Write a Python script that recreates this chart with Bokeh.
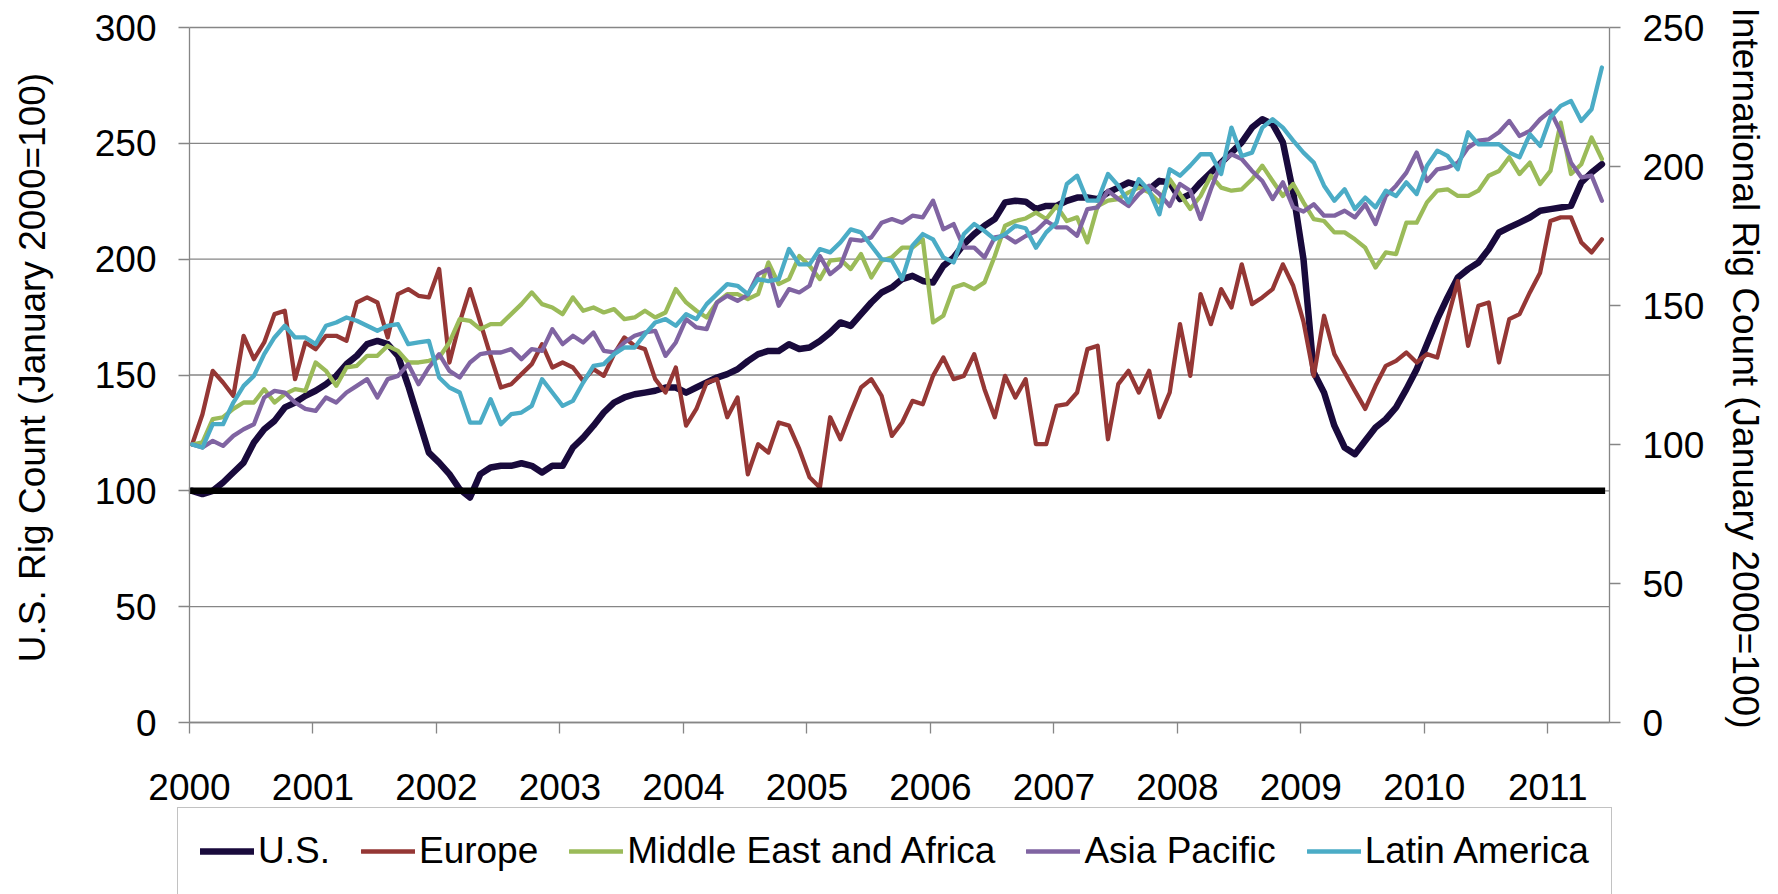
import math
from bokeh.plotting import figure
from bokeh.models import Range1d, LinearAxis, FixedTicker, Legend, LegendItem, Label
from bokeh.embed import file_html
from bokeh.resources import INLINE

# ---------------- data ----------------
YEAR_LABELS = ["2000", "2001", "2002", "2003", "2004", "2005",
               "2006", "2007", "2008", "2009", "2010", "2011"]
LEFT_TICKS = [0, 50, 100, 150, 200, 250, 300]
RIGHT_TICKS = [0, 50, 100, 150, 200, 250]
BASELINE = 100

# U.S. rig count index (left axis), monthly Jan 2000 - Jun 2011
US = [100, 98.6, 100, 103.6, 107.9, 112.2, 120.9, 126.6, 130.2, 136, 138.1, 141,
      143.2, 146, 149.6, 154.7, 158.3, 163.3, 164.7, 163.3, 158.3, 145.3, 130.9, 116.5,
      112.2, 107.2, 100.7, 97.1, 107.2, 110.1, 110.8, 110.8, 111.9, 110.8, 107.9, 110.8,
      110.8, 118.7, 123, 128.1, 133.8, 138.1, 140.3, 141.7, 142.4, 143.2, 144.6, 144.6,
      142.4, 144.6, 146.8, 148.9, 150.4, 152.5, 156, 159, 160.4, 160.4, 163.3, 161.2,
      161.9, 164.7, 168.3, 172.7, 171.2, 176.3, 181.3, 185.6, 187.8, 191.4, 192.8, 190.6,
      189.9, 197.1, 200.7, 206.5, 210.8, 214.4, 217.3, 224.5, 225.2, 224.8, 221.6, 223,
      223, 225.2, 226.6, 226.6, 225.9, 228.8, 230.9, 233.1, 231.7, 230.2, 233.8, 233.1,
      225.9, 228.1, 233.1, 237.4, 241.7, 246, 250.4, 256.8, 260.4, 258.3, 250.4, 228.8,
      200, 151.1, 142.4, 128.1, 118.7, 115.8, 121.6, 127.3, 130.9, 136, 143.9, 152.5,
      163.3, 174.1, 183.5, 192.1, 195.7, 198.6, 204.3, 211.5, 213.7, 215.8, 218, 220.9,
      221.6, 222.3, 223, 233.1, 237.4, 241]

# International rig count indices (right axis)
EUROPE = [100, 110.9, 126.5, 122.3, 117.5, 139.1, 130.7, 136.7, 146.9, 148.1, 123.5, 136.7,
          134.3, 139.1, 139.1, 137.3, 151.1, 152.9, 151.1, 138.5, 154.1, 155.9, 153.5, 152.9,
          163.1, 129.5, 143.9, 155.9, 143.9, 131.9, 120.5, 121.7, 125.3, 128.9, 136.1, 127.7,
          129.5, 127.7, 122.9, 127.1, 124.7, 132.5, 138.5, 135.5, 134.3, 123.5, 118.7, 127.7,
          106.8, 112.8, 122.3, 123.5, 109.8, 116.9, 89.3, 100.1, 97.1, 107.9, 106.8, 98.3,
          88.2, 84.5, 109.8, 101.9, 111.5, 120.5, 123.5, 117.5, 103.1, 107.9, 115.7, 114.5,
          124.7, 131.3, 123.5, 124.7, 132.5, 119.9, 109.8, 124.7, 116.9, 123.5, 100.1, 100.1,
          113.9, 114.5, 118.7, 134.3, 135.5, 101.9, 121.7, 126.5, 118.7, 126.5, 109.8, 118.7,
          143.3, 124.7, 154.1, 143.3, 155.9, 149.3, 164.8, 150.5, 152.9, 155.9, 164.8, 157.1,
          144.2, 124.7, 146.3, 132.5, 125.9, 119.3, 112.8, 121.1, 128.3, 130.1, 133.1, 129.5,
          132.5, 131.3, 145.1, 158.8, 135.5, 149.9, 151.1, 129.5, 145.1, 146.9, 154.7, 161.8,
          180.4, 181.7, 181.7, 172.7, 169.1, 173.8]

MIDDLE_EAST_AFRICA = [100, 100.8, 109.1, 109.8, 112.8, 115.1, 115.1, 119.9, 115.1, 118.1, 119.9, 119.3,
                      129.5, 126.5, 121.1, 127.7, 128.3, 131.9, 131.9, 135.5, 133.7, 129.5, 129.5, 130.1,
                      131.3, 136.7, 145.1, 144.5, 141.5, 143.3, 143.3, 146.9, 150.5, 154.7, 150.5, 149.3,
                      146.9, 152.9, 148.1, 149.3, 147.5, 148.7, 145.1, 145.7, 148.1, 145.7, 147.5, 155.9,
                      151.1, 148.1, 145.7, 151.1, 154.1, 154.1, 152.3, 154.1, 165.5, 157.7, 159.5, 167.8,
                      164.3, 159.5, 166.1, 166.6, 163.1, 168.5, 160.1, 166.1, 167.3, 170.8, 170.8, 173.8,
                      143.9, 146.3, 156.5, 157.7, 155.9, 158.3, 167.8, 178.7, 180.4, 181.3, 183.4, 181.1,
                      185.8, 180.4, 181.7, 172.7, 185.8, 187.7, 188.3, 190.7, 192.4, 190.7, 187.1, 195.4,
                      190.1, 184.7, 189.4, 196.7, 192.4, 191.3, 191.8, 195.4, 200.3, 194.8, 189.4, 193.7,
                      187.1, 181.1, 180.4, 176.3, 176.3, 173.8, 170.8, 163.7, 169.1, 168.5, 179.8, 179.8,
                      187.1, 191.3, 191.8, 189.4, 189.4, 191.3, 196.7, 198.4, 203.3, 197.3, 201.4, 193.7,
                      198.4, 215.8, 197.3, 200.8, 210.4, 202.7]

ASIA_PACIFIC = [100, 98.9, 101.3, 99.5, 103.1, 105.5, 107.3, 116.9, 119.3, 118.7, 115.1, 112.8,
                112.1, 116.9, 115.1, 118.7, 121.1, 123.5, 116.9, 123.5, 124.7, 128.9, 121.7, 127.7,
                132.5, 126.5, 124.1, 129.5, 132.5, 133.1, 133.1, 134.3, 130.7, 134.3, 133.7, 141.5,
                136.1, 139.1, 136.7, 140.3, 133.7, 133.1, 136.7, 139.1, 140.3, 140.9, 131.9, 136.7,
                145.1, 142.1, 141.5, 151.1, 153.5, 151.7, 153.8, 161.3, 163.1, 149.9, 155.9, 154.7,
                157.1, 167.8, 161.3, 164.3, 173.8, 173.3, 174.5, 179.8, 181.1, 179.8, 182.3, 181.7,
                187.7, 177.4, 179.3, 170.8, 170.8, 167.3, 174.5, 175.1, 172.7, 175, 176.8, 180.4,
                178.1, 178.1, 175.1, 184.7, 185.3, 191.3, 188.3, 185.8, 190.1, 193.1, 190.1, 185.8,
                193.7, 191.3, 181.1, 191.8, 201.4, 204.4, 202.7, 198.4, 194.8, 188.3, 194.3, 185.3,
                183.8, 186.4, 182.3, 182.3, 184.1, 181.7, 186.4, 179.3, 189.4, 193.1, 197.8, 205,
                194.8, 199, 199.7, 201.4, 206.8, 209.3, 209.8, 212.3, 216.4, 211, 212.8, 217,
                220, 212.3, 201.4, 196.1, 196.7, 187.7]

LATIN_AMERICA = [100, 98.9, 107.3, 107.3, 115.1, 121.1, 124.7, 132.5, 138.5, 142.7, 138.5, 138.5,
                 136.1, 142.7, 143.9, 145.7, 144.5, 142.7, 140.9, 142.7, 143.3, 136.1, 136.7, 137.3,
                 124.1, 120.5, 118.7, 107.9, 107.9, 116.3, 107.3, 110.9, 111.5, 113.9, 123.5, 118.7,
                 113.9, 115.7, 122.3, 128.3, 128.9, 132.5, 134.9, 134.9, 139.7, 143.9, 145.1, 142.7,
                 146.9, 145.1, 150.5, 154.1, 157.7, 157.1, 154.1, 159.5, 158.8, 159.5, 170.3, 164.8,
                 164.8, 170.3, 169.1, 172.7, 177.4, 176.3, 171.5, 166.7, 166.1, 159.5, 171.5, 175.7,
                 173.8, 167.3, 165.5, 175.7, 179.3, 176.8, 173.8, 175.7, 178.7, 177.8, 170.8, 176.3,
                 179.8, 193.7, 196.7, 187.7, 187.7, 197.3, 193.1, 187.1, 195.4, 191.3, 182.8, 199,
                 196.7, 200.3, 204.4, 204.4, 197.3, 214, 203.8, 205, 214, 217, 214, 209.3,
                 205, 201.4, 193.1, 187.7, 191.8, 184.7, 188.8, 185.3, 191.3, 189.4, 194.3, 190.1,
                 200.3, 205.7, 203.8, 199, 212.3, 208, 208, 208, 205, 203.3, 211.6, 207.4,
                 217.7, 221.8, 223.6, 216.4, 220.6, 235.6]

# ---------------- layout (pixels) ----------------
W, H = 1778, 894
PLOT_L, PLOT_R, PLOT_T, PLOT_B = 189, 1609, 27, 722   # plot area inside the canvas
N_MONTHS = 138
LEFT_MAX, RIGHT_MAX = 300, 250

px_per_month = (PLOT_R - PLOT_L) / N_MONTHS
px_per_unit = (PLOT_B - PLOT_T) / LEFT_MAX
x_lo = -PLOT_L / px_per_month
x_hi = (W - PLOT_L) / px_per_month
y_lo = -(H - PLOT_B) / px_per_unit
y_hi = PLOT_B / px_per_unit
ratio = LEFT_MAX / RIGHT_MAX

FONT = "Liberation Sans"
FS = "37px"
GRAY = "#868686"
COLORS = {"us": "#190a3c", "eu": "#953735", "mea": "#9bbb59",
          "ap": "#8064a2", "la": "#4bacc6"}

# the frame covers the whole canvas; axes are pinned at the plot-area edges
p = figure(width=W, height=H, output_backend="svg", toolbar_location=None,
           x_range=Range1d(x_lo, x_hi), y_range=Range1d(y_lo, y_hi),
           min_border_left=0, min_border_right=0, min_border_top=0, min_border_bottom=0)
p.outline_line_color = None
p.background_fill_color = "white"
p.border_fill_color = "white"
p.extra_y_ranges = {"intl": Range1d(y_lo / ratio, y_hi / ratio)}
p.xgrid.visible = False
p.ygrid.visible = False


def style_axis(ax, standoff=22):
    ax.axis_line_color = GRAY
    ax.axis_line_width = 1.3
    ax.major_tick_line_color = GRAY
    ax.major_tick_line_width = 1.3
    ax.major_tick_out = 11
    ax.major_tick_in = 0
    ax.minor_tick_out = 0
    ax.minor_tick_in = 0
    ax.major_label_text_font = FONT
    ax.major_label_text_font_size = FS
    ax.major_label_text_color = "black"
    ax.major_label_standoff = standoff


# horizontal gridlines at the left-axis ticks, across the plot area
p.segment(x0=[0] * len(LEFT_TICKS), x1=[N_MONTHS] * len(LEFT_TICKS),
          y0=LEFT_TICKS, y1=LEFT_TICKS, line_color=GRAY, line_width=1.3)

xax = p.xaxis[0]
style_axis(xax, standoff=40)
year_ticks = [12 * k for k in range(len(YEAR_LABELS))]
xax.ticker = FixedTicker(ticks=year_ticks)
xax.major_label_overrides = {t: lab for t, lab in zip(year_ticks, YEAR_LABELS)}
xax.fixed_location = 0
xax.bounds = (0, N_MONTHS)

yax = p.yaxis[0]
style_axis(yax)
yax.ticker = FixedTicker(ticks=LEFT_TICKS)
yax.fixed_location = 0
yax.bounds = (0, LEFT_MAX)

rax = LinearAxis(y_range_name="intl", ticker=FixedTicker(ticks=RIGHT_TICKS))
style_axis(rax)
rax.fixed_location = N_MONTHS
rax.bounds = (0, RIGHT_MAX)
p.add_layout(rax, "right")

# axis titles
p.add_layout(Label(x=31.5, y=H - 367, x_units="screen", y_units="screen",
                   text="U.S. Rig Count (January 2000=100)", angle=math.pi / 2,
                   text_align="center", text_baseline="middle",
                   text_font=FONT, text_font_size=FS, text_color="black"))
p.add_layout(Label(x=1744.5, y=H - 367.5, x_units="screen", y_units="screen",
                   text="International Rig Count (January 2000=100)", angle=-math.pi / 2,
                   text_align="center", text_baseline="middle",
                   text_font=FONT, text_font_size=FS, text_color="black"))

# monthly points, drawn a quarter of a month into each month
x = [i + 0.26 for i in range(len(US))]

common = dict(line_join="round", line_cap="round")
r_us = p.line(x, US, line_color=COLORS["us"], line_width=6.5, **common)
r_eu = p.line(x, EUROPE, y_range_name="intl", line_color=COLORS["eu"], line_width=4.3, **common)
r_mea = p.line(x, MIDDLE_EAST_AFRICA, y_range_name="intl", line_color=COLORS["mea"], line_width=4.3, **common)
r_ap = p.line(x, ASIA_PACIFIC, y_range_name="intl", line_color=COLORS["ap"], line_width=4.3, **common)
r_la = p.line(x, LATIN_AMERICA, y_range_name="intl", line_color=COLORS["la"], line_width=4.3, **common)
p.line(x, [BASELINE] * len(x), line_color="black", line_width=6.5, line_cap="square")

legend = Legend(items=[LegendItem(label="U.S.", renderers=[r_us]),
                       LegendItem(label="Europe", renderers=[r_eu]),
                       LegendItem(label="Middle East and Africa", renderers=[r_mea]),
                       LegendItem(label="Asia Pacific", renderers=[r_ap]),
                       LegendItem(label="Latin America", renderers=[r_la])],
                orientation="horizontal", location=(177, -1))
legend.label_text_font = FONT
legend.label_text_font_size = FS
legend.label_text_color = "black"
legend.glyph_width = 54
legend.glyph_height = 20
legend.label_standoff = 4
legend.spacing = 31
legend.padding = 22
legend.margin = 0
legend.border_line_color = GRAY
legend.border_line_width = 1.5
legend.background_fill_color = "white"
legend.background_fill_alpha = 1.0
p.add_layout(legend)

open("out.html", "w").write(file_html(p, INLINE))
